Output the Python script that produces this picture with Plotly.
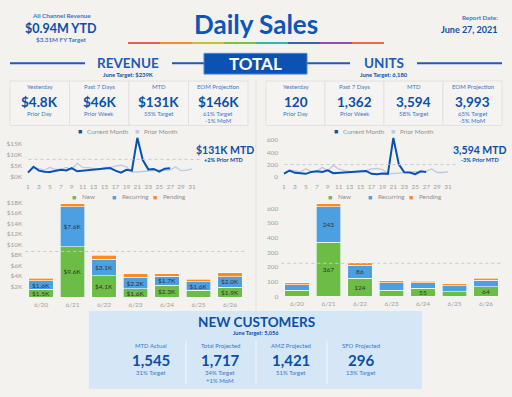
import plotly.graph_objects as go

W, H = 512, 397
FONT = "Lato"
DARK = "#0b4fa8"
MID = "#1a5cb8"
LIGHT = "#3a76c6"
GRAY = "#8f8f8f"
BG = "#f3f2ef"

# ---------------- data ----------------
days_all = list(range(1, 32))
days_cur = list(range(1, 28))
rev_cur_k = [1.9, 4.6, 2.8, 2.3, 2.2, 2.8, 3.2, 2.9, 4.0, 2.5, 2.8, 2.8, 3.4, 3.6,
             4.0, 4.0, 2.8, 1.9, 3.2, 2.8, 17.9, 7.7, 3.4, 3.6, 2.4, 3.7, 3.9]
rev_prior_k = [1.9, 4.3, 3.7, 3.1, 4.3, 3.4, 3.4, 4.3, 3.4, 6.2, 4.3, 4.2, 3.7, 3.4,
               4.3, 4.3, 4.9, 5.3, 4.6, 2.3, 2.2, 2.5, 2.8, 3.1, 3.1, 2.9, 3.2,
               4.5, 2.8, 3.1, 3.6]
units_cur = [53, 100, 64, 53, 48, 80, 90, 80, 106, 58, 64, 75, 85, 85, 100, 96,
             48, 43, 53, 48, 638, 205, 75, 70, 43, 90, 80]
units_prior = [48, 106, 100, 80, 133, 85, 90, 154, 100, 186, 128, 100, 90, 85, 96,
               100, 128, 138, 117, 58, 53, 64, 75, 85, 85, 80, 90, 128, 70, 70, 80]
rev_line_target_k = 8.0
units_line_target = 200

bar_dates = ["6/20", "6/21", "6/22", "6/23", "6/24", "6/25", "6/26"]
rev_new_k = [1.5, 9.6, 4.1, 1.6, 2.3, 1.3, 1.9]
rev_rec_k = [1.6, 7.6, 3.1, 2.2, 1.7, 1.6, 2.0]
rev_pend_k = [0.5, 0.55, 0.8, 0.7, 0.5, 0.5, 0.75]
rev_new_show = [1, 1, 1, 1, 1, 0, 1]
rev_rec_show = [1, 1, 1, 1, 1, 1, 1]
units_new = [40, 367, 124, 42, 55, 32, 64]
units_rec = [38, 243, 86, 50, 37, 38, 44]
units_pend = [14, 20, 18, 15, 11, 15, 16]
units_new_show = [0, 1, 1, 0, 1, 0, 1]
units_rec_show = [0, 1, 1, 0, 0, 0, 0]
rev_bar_target_k = 8.7
units_bar_target = 225

rev_cards = [("Yesterday", "$4.8K", "Prior Day", ""),
             ("Past 7 Days", "$46K", "Prior Week", ""),
             ("MTD", "$131K", "55% Target", ""),
             ("EOM Projection", "$146K", "61% Target", "-1% MoM")]
unit_cards = [("Yesterday", "120", "Prior Day", ""),
              ("Past 7 Days", "1,362", "Prior Week", ""),
              ("MTD", "3,594", "58% Target", ""),
              ("EOM Projection", "3,993", "65% Target", "-5% MoM")]
cust_cards = [("MTD Actual", "1,545", "31% Target", ""),
              ("Total Projected", "1,717", "34% Target", "+1% MoM"),
              ("AMZ Projected", "1,421", "51% Target", ""),
              ("SFO Projected", "296", "13% Target", "")]

C_CUR = "#0b4fb0"
C_PRIOR = "#b7cbe3"
C_NEW = "#6cbd45"
C_REC = "#4c9fe0"
C_PEND = "#ff8a1c"


def px(x):
    return x / W


def py(y):
    return 1 - y / H


fig = go.Figure()

# line charts
fig.add_trace(go.Scatter(x=days_all, y=rev_prior_k, mode="lines", line=dict(color=C_PRIOR, width=1.3),
                         xaxis="x", yaxis="y", showlegend=False, name="Prior Month"))
fig.add_trace(go.Scatter(x=days_cur, y=rev_cur_k, mode="lines", line=dict(color=C_CUR, width=2),
                         xaxis="x", yaxis="y", showlegend=False, name="Current Month"))
fig.add_trace(go.Scatter(x=days_all, y=units_prior, mode="lines", line=dict(color=C_PRIOR, width=1.3),
                         xaxis="x2", yaxis="y2", showlegend=False, name="Prior Month"))
fig.add_trace(go.Scatter(x=days_cur, y=units_cur, mode="lines", line=dict(color=C_CUR, width=2),
                         xaxis="x2", yaxis="y2", showlegend=False, name="Current Month"))


def lbl(vals, show, fmt):
    return [fmt(v) if s else "" for v, s in zip(vals, show)]


kfmt = lambda v: f"${v:.1f}K"
ifmt = lambda v: f"{v:d}"

for vals, col, text, name in [(rev_new_k, C_NEW, lbl(rev_new_k, rev_new_show, kfmt), "New"),
                              (rev_rec_k, C_REC, lbl(rev_rec_k, rev_rec_show, kfmt), "Recurring"),
                              (rev_pend_k, C_PEND, None, "Pending")]:
    fig.add_trace(go.Bar(x=bar_dates, y=vals, marker=dict(color=col, line=dict(color="white", width=0.6)),
                         text=text, textposition="inside", insidetextanchor="middle",
                         textfont=dict(size=6.5, color="#333333", family=FONT),
                         xaxis="x3", yaxis="y3", showlegend=False, name=name, hoverinfo="y"))
for vals, col, text, name in [(units_new, C_NEW, lbl(units_new, units_new_show, ifmt), "New"),
                              (units_rec, C_REC, lbl(units_rec, units_rec_show, ifmt), "Recurring"),
                              (units_pend, C_PEND, None, "Pending")]:
    fig.add_trace(go.Bar(x=bar_dates, y=vals, marker=dict(color=col, line=dict(color="white", width=0.6)),
                         text=text, textposition="inside", insidetextanchor="middle",
                         textfont=dict(size=6.5, color="#333333", family=FONT),
                         xaxis="x4", yaxis="y4", showlegend=False, name=name, hoverinfo="y"))

tickfont = dict(size=6.5, color="#a0a0a0", family=FONT)
axcommon = dict(showgrid=False, zeroline=False, showline=False, ticks="", tickfont=tickfont, fixedrange=True)

shapes = []
ann = []


def txt(x, y, s, size, color, bold=False, xanchor="center"):
    ann.append(dict(x=px(x), y=py(y), xref="paper", yref="paper", text=f"<b>{s}</b>" if bold else s,
                    showarrow=False, xanchor=xanchor, yanchor="middle",
                    font=dict(size=size, color=color, family=FONT)))


def line(x0, y0, x1, y1, color, width, dash=None):
    shapes.append(dict(type="line", xref="paper", yref="paper", x0=px(x0), y0=py(y0), x1=px(x1), y1=py(y1),
                       line=dict(color=color, width=width, dash=dash), layer="below"))


def rect(x0, y0, x1, y1, fill, lc=None, lw=0):
    shapes.append(dict(type="rect", xref="paper", yref="paper", x0=px(x0), y0=py(y0), x1=px(x1), y1=py(y1),
                       fillcolor=fill, line=dict(color=lc or fill, width=lw), layer="below"))


# header
txt(61, 14, "All Channel Revenue", 6.3, LIGHT, True)
txt(61, 27, "$0.94M YTD", 12.5, DARK, True)
txt(61, 38, "$3.31M FY Target", 6.3, LIGHT, True)
txt(256, 22, "Daily Sales", 26, "#0d55b9", True)
txt(500, 16, "Report Date:", 6.3, LIGHT, True, "right")
txt(500, 28, "June 27, 2021", 9, DARK, True, "right")
rainbow = ["#e2614e", "#f08d2e", "#c9bd32", "#7cc042", "#35b3ad", "#3a5fb2", "#9250a6", "#e96b4c"]
for i, c in enumerate(rainbow):
    line(128 + 32 * i, 41.5, 128 + 32 * (i + 1), 41.5, c, 2)

# section headers
line(10, 62, 85, 62, MID, 2)
line(172, 62, 204, 62, MID, 2)
line(307, 62, 350, 62, MID, 2)
line(417, 62, 502, 62, MID, 2)
rect(204, 52, 307, 73, "#0b52b3", "#4d86d0", 1)
txt(255.5, 62.5, "TOTAL", 17, "white", True)
txt(128, 61.5, "REVENUE", 13.5, MID, True)
txt(128, 73.5, "June Target: $239K", 5.8, DARK, True)
txt(384, 61.5, "UNITS", 13.5, MID, True)
txt(384, 73.5, "June Target: 6,180", 5.8, DARK, True)

# KPI cards
def cards(x0, w, items):
    for i, (a, b, c, d) in enumerate(items):
        cx0 = x0 + i * w
        rect(cx0, 80, cx0 + w, 125, "#f5f4f2", "#e3e1dc", 1)
        cx = cx0 + w / 2
        txt(cx, 86, a, 6, LIGHT)
        txt(cx, 101.5, b, 13.5, DARK, True)
        txt(cx, 113, c, 6, LIGHT)
        if d:
            txt(cx, 120.5, d, 6, LIGHT)


cards(10, 59.5, rev_cards)
cards(266, 59, unit_cards)

# faint center divider
line(256, 78, 256, 312, "#e4e2dd", 1)

# legends
def legend_line(off):
    txt(80 + off, 131, "■", 7, C_CUR)
    txt(85 + off, 131, "Current Month", 6.3, GRAY, False, "left")
    txt(137 + off, 131, "■", 7, C_PRIOR)
    txt(142 + off, 131, "Prior Month", 6.3, GRAY, False, "left")


def legend_bar(off):
    txt(74 + off, 197, "■", 7, C_NEW)
    txt(80 + off, 197, "New", 6.3, GRAY, False, "left")
    txt(114 + off, 197, "■", 7, C_REC)
    txt(120 + off, 197, "Recurring", 6.3, GRAY, False, "left")
    txt(155 + off, 197, "■", 7, C_PEND)
    txt(161 + off, 197, "Pending", 6.3, GRAY, False, "left")


legend_line(0)
legend_line(256)
legend_bar(0)
legend_bar(256)

txt(225, 149.5, "$131K MTD", 10.5, DARK, True)
txt(224, 159.5, "+2% Prior MTD", 5.6, DARK, True)
txt(480, 149.5, "3,594 MTD", 10.5, DARK, True)
txt(480, 159.5, "-3% Prior MTD", 5.6, DARK, True)

# target dashed lines
shapes.append(dict(type="line", xref="x domain", yref="y", x0=0.02, x1=1, y0=rev_line_target_k, y1=rev_line_target_k,
                   line=dict(color="#c8c8c8", width=1, dash="dot")))
shapes.append(dict(type="line", xref="x2 domain", yref="y2", x0=0.02, x1=1, y0=units_line_target, y1=units_line_target,
                   line=dict(color="#c8c8c8", width=1, dash="dot")))
shapes.append(dict(type="line", xref="x3 domain", yref="y3", x0=0, x1=1, y0=rev_bar_target_k, y1=rev_bar_target_k,
                   line=dict(color="#c8c8c8", width=1, dash="dot"), layer="above"))
shapes.append(dict(type="line", xref="x4 domain", yref="y4", x0=0, x1=1, y0=units_bar_target, y1=units_bar_target,
                   line=dict(color="#c8c8c8", width=1, dash="dot"), layer="above"))

# new customers panel
rect(89, 313, 422, 392, "#d5e6f6")
txt(256, 324.5, "NEW CUSTOMERS", 13.5, DARK, True)
txt(256, 335, "June Target: 5,056", 5.6, DARK, True)
for xs in (186, 256, 327):
    line(xs, 343, xs, 387, "#eef5fc", 1.2)
for cx, (a, b, c, d) in zip((151, 220, 291, 361), cust_cards):
    txt(cx, 348, a, 6, LIGHT)
    txt(cx, 363, b, 15, DARK, True)
    txt(cx, 375, c, 6, LIGHT)
    if d:
        txt(cx, 383, d, 6, LIGHT)

fig.update_layout(
    width=W, height=H, margin=dict(l=0, r=0, t=0, b=0),
    paper_bgcolor=BG, plot_bgcolor="rgba(0,0,0,0)",
    font=dict(family=FONT), barmode="stack", bargap=0.21,
    uniformtext=dict(minsize=6.5, mode="show"),
    shapes=shapes, annotations=ann, showlegend=False,
    xaxis=dict(axcommon, domain=[px(25), px(200)], range=[0.45, 32.46], tickvals=list(range(1, 32, 2)),
               anchor="y", ticklabelstandoff=2),
    yaxis=dict(axcommon, domain=[py(180), py(136)], range=[-1.36, 18.6], tickvals=[0, 5, 10, 15],
               ticktext=["$0K", "$5K", "$10K", "$15K"], anchor="x", ticklabelstandoff=2),
    xaxis2=dict(axcommon, domain=[px(281), px(456)], range=[0.45, 32.46], tickvals=list(range(1, 32, 2)),
                anchor="y2", ticklabelstandoff=2),
    yaxis2=dict(axcommon, domain=[py(180), py(136)], range=[-48.6, 664], tickvals=[0, 200, 400, 600],
                anchor="x2", ticklabelstandoff=2),
    xaxis3=dict(axcommon, domain=[px(25.25), px(245.75)], anchor="y3", ticklabelstandoff=2),
    yaxis3=dict(axcommon, domain=[py(299), py(201)], range=[0, 18.38], tickvals=list(range(2, 19, 2)),
                ticktext=[f"${v}K" for v in range(2, 19, 2)], anchor="x3", ticklabelstandoff=2),
    xaxis4=dict(axcommon, domain=[px(281.25), px(501.75)], anchor="y4", ticklabelstandoff=2),
    yaxis4=dict(axcommon, domain=[py(298), py(201)], range=[0, 654], tickvals=list(range(0, 601, 100)),
                anchor="x4", ticklabelstandoff=2),
)

fig.write_html("out.html", config={"displayModeBar": False},
               post_script="document.body.style.margin='0';document.body.style.padding='0';")
